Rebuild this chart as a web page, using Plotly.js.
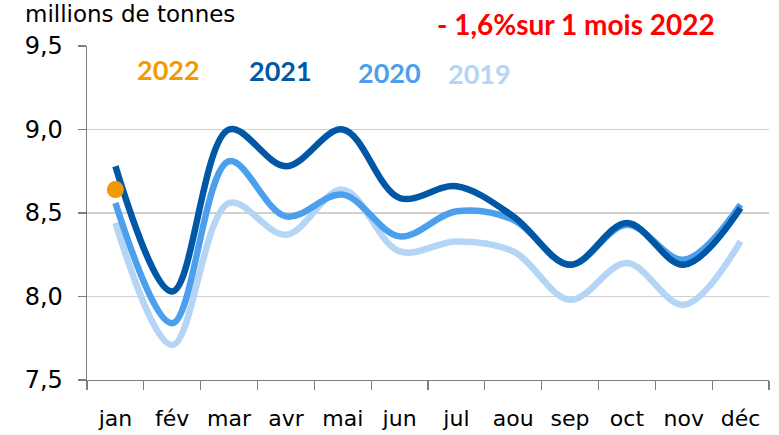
<!DOCTYPE html>
<html>
<head>
<meta charset="utf-8">
<script src="https://cdn.plot.ly/plotly-3.0.1.min.js"></script>
<style>
html,body{margin:0;padding:0;background:#fff;}
#chart{width:779px;height:435px;}
</style>
</head>
<body>
<div id="chart"></div>
<script>
const months = ["jan","fév","mar","avr","mai","jun","jul","aou","sep","oct","nov","déc"];
const y2019 = [8.44, 7.71, 8.56, 8.37, 8.64, 8.27, 8.33, 8.27, 7.98, 8.20, 7.95, 8.33];
const y2020 = [8.56, 7.84, 8.81, 8.48, 8.61, 8.36, 8.51, 8.46, 8.19, 8.43, 8.22, 8.55];
const y2021 = [8.78, 8.03, 9.00, 8.78, 9.00, 8.59, 8.66, 8.48, 8.19, 8.44, 8.19, 8.53];
const months2022 = ["jan"];
const y2022 = [8.64];
const seriesNames = ["2019","2020","2021","2022"];
const yTicks = [7.5, 8.0, 8.5, 9.0, 9.5];

const C19 = "#B4D5F6", C20 = "#4C9FEC", C21 = "#0057A6", C22 = "#F39A00";
const FONT = "'DejaVu Sans', sans-serif";
const BFONT = "Lato, 'Open Sans', sans-serif";

function lineTrace(y, name, color){
  return {x: months, y: y, name: name, type: "scatter", mode: "lines",
    line: {color: color, width: 6.5, shape: "spline", smoothing: 1},
    hoverinfo: "skip"};
}
const data = [
  lineTrace(y2019, seriesNames[0], C19),
  lineTrace(y2020, seriesNames[1], C20),
  lineTrace(y2021, seriesNames[2], C21),
  {x: months2022, y: y2022, name: seriesNames[3], type: "scatter", mode: "markers",
   marker: {color: C22, size: 17}, hoverinfo: "skip"}
];

const layout = {
  width: 779, height: 435,
  margin: {l: 87, r: 10, t: 46, b: 55, pad: 0},
  paper_bgcolor: "#fff", plot_bgcolor: "#fff",
  separators: ", ",
  showlegend: false,
  font: {family: FONT, color: "#000", size: 22},
  xaxis: {
    type: "category", categoryorder: "array", categoryarray: months,
    range: [-0.5, 11.5], tickson: "boundaries",
    ticks: "outside", ticklen: 9, tickcolor: "#7F7F7F", tickwidth: 1.3,
    showline: true, linecolor: "#7F7F7F", linewidth: 1.3,
    showgrid: false, zeroline: false, ticklabelstandoff: 18,
    tickfont: {family: FONT, size: 22, color: "#000"}
  },
  yaxis: {
    range: [7.5, 9.5], tickvals: yTicks, tickformat: ".1f",
    ticks: "outside", ticklen: 8, tickcolor: "#7F7F7F", tickwidth: 1.3,
    showline: true, linecolor: "#7F7F7F", linewidth: 1.3,
    showgrid: true, gridcolor: "#D0D0D0", gridwidth: 1.3, zeroline: false,
    ticklabelstandoff: 10,
    tickfont: {family: FONT, size: 24, color: "#000"}
  },
  annotations: [
    {text: "millions de tonnes", xref: "paper", yref: "paper", x: -0.0938, y: 1.095,
     xanchor: "left", yanchor: "middle", showarrow: false,
     font: {family: FONT, size: 23, color: "#000"}},
    {text: "<b>- 1,6%sur 1 mois 2022</b>", xref: "paper", yref: "paper", x: 0.717, y: 1.066,
     xanchor: "center", yanchor: "middle", showarrow: false,
     font: {family: BFONT, size: 28, color: "#FF0000"}},
    {text: "<b>2022</b>", xref: "paper", yref: "paper", x: 0.1195, y: 0.931,
     xanchor: "center", yanchor: "middle", showarrow: false,
     font: {family: BFONT, size: 27, color: C22}},
    {text: "<b>2021</b>", xref: "paper", yref: "paper", x: 0.283, y: 0.928,
     xanchor: "center", yanchor: "middle", showarrow: false,
     font: {family: BFONT, size: 27, color: C21}},
    {text: "<b>2020</b>", xref: "paper", yref: "paper", x: 0.444, y: 0.922,
     xanchor: "center", yanchor: "middle", showarrow: false,
     font: {family: BFONT, size: 27, color: C20}},
    {text: "<b>2019</b>", xref: "paper", yref: "paper", x: 0.576, y: 0.919,
     xanchor: "center", yanchor: "middle", showarrow: false,
     font: {family: BFONT, size: 27, color: C19}}
  ]
};

Plotly.newPlot("chart", data, layout, {staticPlot: true, displayModeBar: false});
</script>
</body>
</html>
